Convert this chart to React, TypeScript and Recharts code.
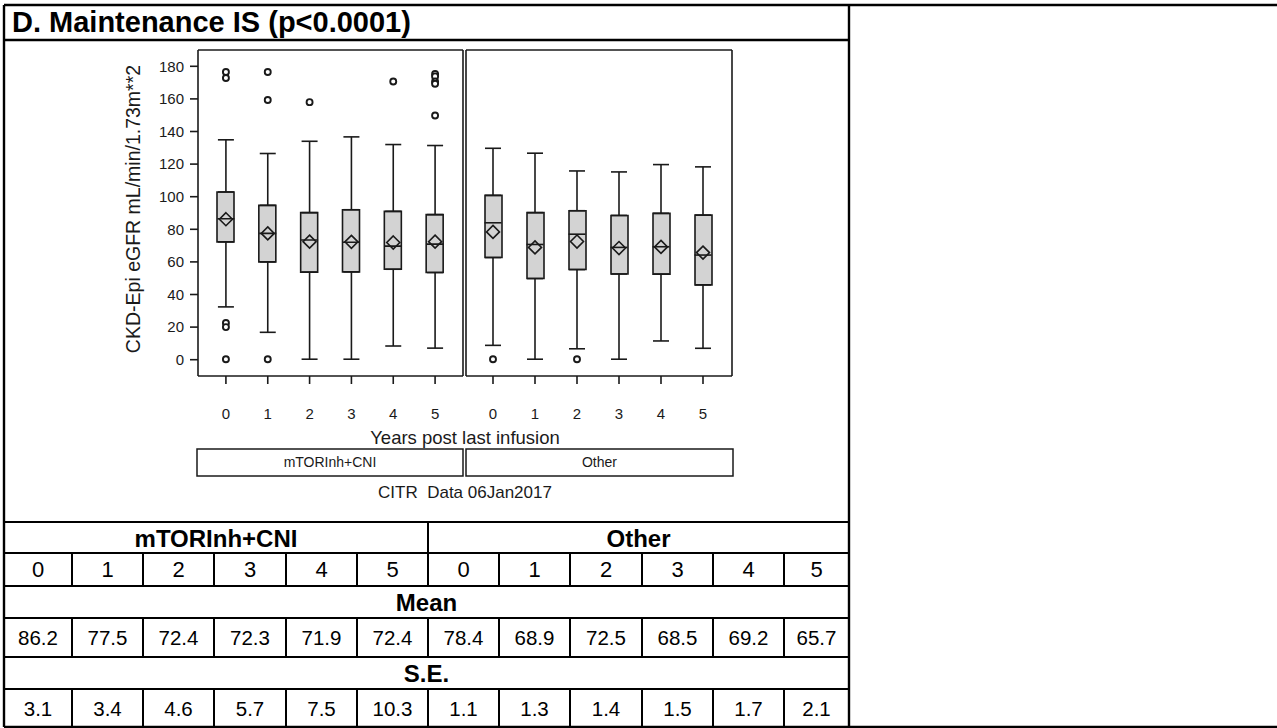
import React from 'react';
import { ComposedChart, Bar, Scatter, ErrorBar, XAxis, YAxis } from 'recharts';

// ---------- data ----------
const categories = ['0', '1', '2', '3', '4', '5'];
const groupNames = ['mTORInh+CNI', 'Other'];
const yTicks = [0, 20, 40, 60, 80, 100, 120, 140, 160, 180];

// mTORInh+CNI
const mtorLow = [32.4, 16.8, 0.3, 0.3, 8.4, 7.1];
const mtorQ1 = [72.3, 60.0, 53.7, 53.9, 55.5, 53.5];
const mtorMedian = [86.5, 77.5, 73.4, 72.1, 69.7, 70.9];
const mtorQ3 = [102.9, 94.7, 90.2, 92.0, 91.0, 89.0];
const mtorHigh = [134.9, 126.5, 134.0, 136.7, 132.0, 131.4];
const mtorMean = [86.2, 77.5, 72.4, 72.3, 71.9, 72.4];
const mtorSE = [3.1, 3.4, 4.6, 5.7, 7.5, 10.3];
const mtorOutliers = [
  [176.5, 172.8, 22.5, 20.0, 0.3],
  [176.5, 159.3, 0.3],
  [158.0],
  [],
  [170.7],
  [175.3, 173.8, 170.7, 169.3, 149.8],
];

// Other
const otherLow = [8.8, 0.3, 6.7, 0.3, 11.5, 7.0];
const otherQ1 = [62.7, 49.8, 55.3, 52.6, 52.5, 45.9];
const otherMedian = [84.0, 70.7, 77.0, 68.9, 69.3, 64.2];
const otherQ3 = [100.8, 90.2, 91.4, 88.5, 89.8, 88.7];
const otherHigh = [129.7, 126.7, 115.8, 115.2, 119.7, 118.3];
const otherMean = [78.4, 68.9, 72.5, 68.5, 69.2, 65.7];
const otherSE = [1.1, 1.3, 1.4, 1.5, 1.7, 2.1];
const otherOutliers = [[0.3], [], [0.3], [], [], []];

const allMeans = [...mtorMean, ...otherMean];
const allSE = [...mtorSE, ...otherSE];

function buildRows(lo: number[], q1: number[], med: number[], q3: number[], hi: number[], mean: number[]) {
  return categories.map((cat, i) => ({
    cat,
    box: [q1[i], q3[i]],
    q1: q1[i],
    q3: q3[i],
    med: med[i],
    mean: mean[i],
    lowW: [q1[i] - lo[i], 0],
    highW: [0, hi[i] - q3[i]],
  }));
}

function buildOutliers(out: number[][]) {
  const pts: { cat: string; v: number }[] = [];
  out.forEach((arr, i) => arr.forEach((v) => pts.push({ cat: categories[i], v })));
  return pts;
}

const mtorRows = buildRows(mtorLow, mtorQ1, mtorMedian, mtorQ3, mtorHigh, mtorMean);
const otherRows = buildRows(otherLow, otherQ1, otherMedian, otherQ3, otherHigh, otherMean);
const mtorOut = buildOutliers(mtorOutliers);
const otherOut = buildOutliers(otherOutliers);

// ---------- styles ----------
const FONT = '"Liberation Sans", Arial, Helvetica, sans-serif';
const INK = '#1a1a1a';
const BOX_W = 17;

const Nothing = () => <g />;
const MedianShape = (p: any) => (
  <line x1={p.cx - BOX_W / 2} x2={p.cx + BOX_W / 2} y1={p.cy} y2={p.cy} stroke={INK} strokeWidth={1.6} />
);
const MeanShape = (p: any) => (
  <path
    d={`M${p.cx},${p.cy - 6.5} L${p.cx + 6.5},${p.cy} L${p.cx},${p.cy + 6.5} L${p.cx - 6.5},${p.cy} Z`}
    fill="none"
    stroke={INK}
    strokeWidth={1.6}
  />
);
const OutlierShape = (p: any) => (
  <circle cx={p.cx} cy={p.cy} r={3} fill="#fff" stroke={INK} strokeWidth={1.9} />
);

function Panel({ rows, outliers, showY, padding }: any) {
  const width = showY ? 370 : 274;
  return (
    <ComposedChart
      width={width}
      height={400}
      data={rows}
      margin={{ top: 9, right: 6, bottom: 0, left: 0 }}
    >
      <XAxis
        dataKey="cat"
        type="category"
        allowDuplicatedCategory={false}
        padding={padding}
        height={64}
        tickSize={8}
        tickMargin={24}
        stroke={INK}
        strokeWidth={1.6}
        tick={{ fill: INK, fontSize: 15, fontFamily: FONT }}
      />
      <XAxis
        xAxisId="top"
        dataKey="cat"
        orientation="top"
        allowDuplicatedCategory={false}
        padding={padding}
        height={1}
        tick={false}
        tickLine={false}
        stroke={INK}
        strokeWidth={1.6}
      />
      <YAxis
        type="number"
        domain={[-10, 190]}
        allowDataOverflow
        ticks={showY ? yTicks : []}
        width={showY ? 98 : 1}
        tick={showY ? { fill: INK, fontSize: 15, fontFamily: FONT } : false}
        tickLine={showY}
        tickSize={8}
        tickMargin={6}
        stroke={INK}
        strokeWidth={1.6}
        label={
          showY
            ? {
                value: 'CKD-Epi eGFR mL/min/1.73m**2',
                angle: -90,
                position: 'insideLeft',
                offset: 33,
                dy: -4,
                style: { textAnchor: 'middle', fontSize: 19.5, fontFamily: FONT, fill: INK },
              }
            : undefined
        }
      />
      <YAxis
        yAxisId="r"
        orientation="right"
        type="number"
        domain={[-10, 190]}
        allowDataOverflow
        width={1}
        tick={false}
        tickLine={false}
        stroke={INK}
        strokeWidth={1.6}
      />
      <Scatter dataKey="q1" xAxisId="top" yAxisId="r" shape={Nothing} isAnimationActive={false}>
        <ErrorBar dataKey="lowW" direction="y" width={8} stroke={INK} strokeWidth={1.6} isAnimationActive={false} />
      </Scatter>
      <Scatter dataKey="q3" shape={Nothing} isAnimationActive={false}>
        <ErrorBar dataKey="highW" direction="y" width={8} stroke={INK} strokeWidth={1.6} isAnimationActive={false} />
      </Scatter>
      <Bar dataKey="box" barSize={BOX_W} fill="#d3d3d3" stroke={INK} strokeWidth={1.6} isAnimationActive={false} />
      <Scatter dataKey="med" shape={MedianShape} isAnimationActive={false} />
      <Scatter dataKey="mean" shape={MeanShape} isAnimationActive={false} />
      <Scatter data={outliers} dataKey="v" shape={OutlierShape} isAnimationActive={false} />
    </ComposedChart>
  );
}

const colX = [4, 72, 143, 214, 286, 357, 428, 499, 570, 642, 713, 784, 849];
const rowY = [522, 553, 586, 618, 657, 689, 727];

function Overlay() {
  const lines: React.ReactNode[] = [];
  const L = (x1: number, y1: number, x2: number, y2: number, k: string, w = 2) =>
    lines.push(<line key={k} x1={x1} y1={y1} x2={x2} y2={y2} stroke="#000" strokeWidth={w} />);
  L(4, 5, 1277, 5, 'top', 2.4);
  L(4, 727, 1277, 727, 'bot', 2.4);
  L(4, 5, 4, 727, 'left', 2.4);
  L(849, 5, 849, 727, 'right', 2.4);
  L(4, 40, 849, 40, 'title', 2.4);
  rowY.slice(0, 6).forEach((y, i) => L(4, y, 849, y, 'r' + i));
  L(428, 522, 428, 553, 'grpsep');
  [1, 3, 5].forEach((r) => {
    colX.slice(1, 12).forEach((x, i) => L(x, rowY[r], x, rowY[r + 1], `c${r}-${i}`));
  });
  const cellCx = (i: number) => (colX[i] + colX[i + 1]) / 2;
  const txt: React.ReactNode[] = [];
  txt.push(
    <text key="g0" x={(4 + 428) / 2} y={547} textAnchor="middle" fontWeight="bold" fontSize={24}>{groupNames[0]}</text>,
    <text key="g1" x={(428 + 849) / 2} y={547} textAnchor="middle" fontWeight="bold" fontSize={24}>{groupNames[1]}</text>,
    <text key="mean" x={426.5} y={611} textAnchor="middle" fontWeight="bold" fontSize={24}>Mean</text>,
    <text key="se" x={426.5} y={682} textAnchor="middle" fontWeight="bold" fontSize={24}>S.E.</text>
  );
  for (let i = 0; i < 12; i++) {
    txt.push(
      <text key={'d' + i} x={cellCx(i)} y={577} textAnchor="middle" fontSize={22}>{categories[i % 6]}</text>,
      <text key={'m' + i} x={cellCx(i)} y={645} textAnchor="middle" fontSize={20.5}>{allMeans[i].toFixed(1)}</text>,
      <text key={'s' + i} x={cellCx(i)} y={716} textAnchor="middle" fontSize={20.5}>{allSE[i].toFixed(1)}</text>
    );
  }
  return (
    <svg width={1277} height={728} style={{ position: 'absolute', left: 0, top: 0 }} fontFamily={FONT} fill="#000">
      {lines}
      <text x={12} y={32} fontSize={29} fontWeight="bold">D. Maintenance IS (p&lt;0.0001)</text>
      <text x={465} y={444} textAnchor="middle" fontSize={18.5} fill={INK}>Years post last infusion</text>
      <rect x={197} y={449} width={266} height={27} fill="none" stroke={INK} strokeWidth={1.5} />
      <rect x={466} y={449} width={267} height={27} fill="none" stroke={INK} strokeWidth={1.5} />
      <text x={330} y={467} textAnchor="middle" fontSize={14} fill={INK}>{groupNames[0]}</text>
      <text x={599.5} y={467} textAnchor="middle" fontSize={14} fill={INK}>{groupNames[1]}</text>
      <text x={465} y={498} textAnchor="middle" fontSize={17} fill={INK} style={{ whiteSpace: 'pre' }}>CITR  Data 06Jan2017</text>
      {txt}
    </svg>
  );
}

export default function App() {
  return (
    <div style={{ position: 'absolute', left: 0, top: 0, width: 1277, height: 728, background: '#fff', fontFamily: FONT }}>
      <Overlay />
      <div style={{ position: 'absolute', left: 100, top: 40 }}>
        <Panel rows={mtorRows} outliers={mtorOut} showY padding={{ left: 7, right: 7 }} />
      </div>
      <div style={{ position: 'absolute', left: 465, top: 40 }}>
        <Panel rows={otherRows} outliers={otherOut} showY={false} padding={{ left: 6, right: 8 }} />
      </div>
    </div>
  );
}
